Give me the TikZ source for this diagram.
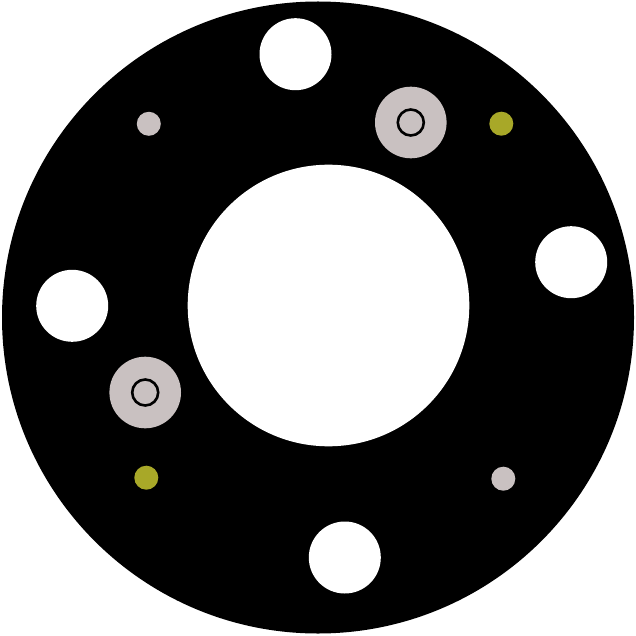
\documentclass[tikz,border=0pt]{standalone}
\usepackage{tikz}
\definecolor{padgray}{HTML}{C9C1C1}
\definecolor{padolive}{HTML}{A8A828}
\begin{document}
\begin{tikzpicture}[x=1pt,y=-1pt]
\tikzset{bolthole/.style={fill=white}}
\tikzset{washer/.style={fill=padgray}}
\tikzset{pinring/.style={draw=black,line width=2.6pt}}
\tikzset{markdot/.style={fill=padolive}}
\useasboundingbox (0,0) rectangle (636,636);
\fill[black] (318,317.5) circle (316);
\fill[bolthole] (328.5,305.5) circle (140.8);
\fill[bolthole] (295.5,54.2) circle (36);
\fill[bolthole] (571.2,262.2) circle (36);
\fill[bolthole] (72.2,305.8) circle (36);
\fill[bolthole] (344.8,557.5) circle (36);
\fill[washer] (410.8,122.5) circle (35.8);
\draw[pinring] (410.8,122.5) circle (13);
\fill[washer] (145.2,392.5) circle (35.8);
\draw[pinring] (145.2,392.5) circle (13);
\fill[washer] (148.8,123.8) circle (12);
\fill[washer] (503.3,478.7) circle (12);
\fill[markdot] (501.3,123.7) circle (12);
\fill[markdot] (146.3,477.7) circle (12);
\end{tikzpicture}
\end{document}
